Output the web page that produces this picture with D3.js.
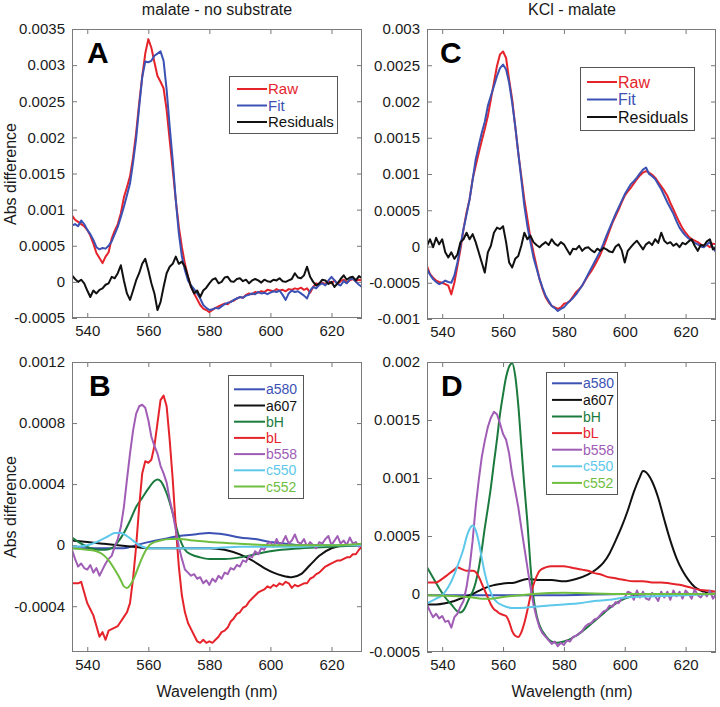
<!DOCTYPE html>
<html><head><meta charset="utf-8">
<script src="https://cdn.jsdelivr.net/npm/d3@7"></script>
<style>body{margin:0;background:#fff}svg{display:block}</style>
</head><body><svg id="c" width="720" height="707"></svg>
<script>
// ---------- DATA ----------
const wl1 = [535,536,537,538,539,540,541,542,543,544,545,546,547,548,549,550,551,552,553,554,555,556,557,558,559,560,561,562,563,564,565,566,567,568,569,570,571,572,573,574,575,576,577,578,579,580,581,582,583,584,585,586,587,588,589,590,591,592,593,594,595,596,597,598,599,600,601,602,603,604,605,606,607,608,609,610,611,612,613,614,615,616,617,618,619,620,621,622,623,624,625,626,627,628,629,630];
const xTicks = [540,560,580,600,620];

// Panel A: malate - no substrate
const rawA = [.00092,.00086,.00083,.00080,.00077,.00072,.00064,.00053,.00040,.00033,
.00026,.00035,.00041,.00060,.00071,.00080,.00095,.00117,.00131,.00146,
.00172,.00206,.00247,.00284,.00316,.00336,.00324,.00304,.00285,.00277,
.00268,.00238,.00196,.00155,.00113,.00076,.00048,.00025,.00007,-.00007,
-.00016,-.00024,-.00032,-.00037,-.00039,-.00042,-.00039,-.00036,-.00034,-.00032,
-.00030,-.00031,-.00027,-.00026,-.00023,-.00021,-.00022,-.00018,-.00016,-.00017,
-.00014,-.00015,-.00013,-.00014,-.00011,-.00012,-.00013,-.00010,-.00012,-.00011,
-.00013,-.00010,-.00011,-.00009,-.00010,-.00008,-.00011,-.00009,-.00015,-.00007,
-.00002,-.00004,-.00001,-.00003,.00001,-.00002,.00002,-.00003,.00001,.00003,
-.00001,.00002,.00004,.00001,.00003,.00002];
const fitA = [.00078,.00080,.00077,.00085,.00080,.00072,.00066,.00058,.00048,.00045,
.00047,.00046,.00050,.00056,.00066,.00076,.00090,.00104,.00120,.00136,
.00165,.00198,.00242,.00283,.00305,.00304,.00306,.00313,.00316,.00319,
.00306,.00266,.00215,.00168,.00113,.00067,.00035,.00016,.00002,-.00005,
-.00010,-.00016,-.00023,-.00032,-.00036,-.00039,-.00038,-.00036,-.00037,-.00034,
-.00031,-.00029,-.00028,-.00025,-.00023,-.00021,-.00022,-.00019,-.00018,-.00016,
-.00017,-.00014,-.00016,-.00015,-.00017,-.00015,-.00013,-.00014,-.00012,-.00018,
-.00025,-.00016,-.00012,-.00014,-.00013,-.00016,-.00019,-.00023,-.00012,-.00007,
-.00009,-.00004,-.00002,-.00005,.00002,.00007,.00002,-.00003,-.00005,.00001,
-.00002,.00003,.00005,.00000,-.00004,-.00007];
const resA = [.00009,.00004,.00000,.00003,-.00002,-.00012,-.00021,-.00012,-.00016,-.00011,
-.00009,-.00004,-.00002,.00007,.00005,.00012,.00023,.00002,-.00016,-.00025,
-.00012,.00002,.00012,.00025,.00032,.00016,-.00002,-.00016,-.00039,-.00028,
-.00007,.00012,.00021,.00025,.00035,.00025,.00028,.00021,.00007,-.00007,
-.00016,-.00012,-.00021,-.00012,-.00008,-.00002,.00003,.00005,-.00002,.00000,
.00006,.00007,.00001,.00000,.00004,.00005,.00001,.00003,-.00002,.00002,
.00004,.00002,-.00001,.00003,.00001,.00000,.00003,.00002,.00005,.00001,
.00000,.00002,.00004,.00012,.00006,.00005,.00009,.00021,.00007,.00000,
-.00005,-.00002,.00003,.00002,-.00003,.00000,-.00007,-.00002,.00004,.00009,
.00003,.00006,.00007,.00002,.00008,.00005];
const yTicksA = [-0.0005,0,0.0005,0.001,0.0015,0.002,0.0025,0.003,0.0035];

// Panel C: KCl - malate
const rawC = [-.00027,-.00038,-.00043,-.00047,-.00049,-.00050,-.00052,-.00054,-.00066,-.00050,
-.00027,-.00004,.00024,.00047,.00065,.00093,.00111,.00129,.00146,.00162,
.00180,.00203,.00226,.00249,.00265,.00269,.00260,.00230,.00203,.00166,
.00129,.00097,.00065,.00038,.00012,-.00008,-.00027,-.00045,-.00059,-.00070,
-.00077,-.00082,-.00084,-.00086,-.00084,-.00079,-.00078,-.00075,-.00069,-.00063,
-.00059,-.00054,-.00047,-.00040,-.00034,-.00027,-.00019,-.00011,-.00001,.00010,
.00022,.00033,.00042,.00051,.00061,.00070,.00076,.00081,.00087,.00093,
.00098,.00102,.00104,.00102,.00099,.00095,.00089,.00083,.00077,.00070,
.00060,.00051,.00042,.00033,.00025,.00019,.00014,.00010,.00008,.00006,
.00003,.00001,.00002,-.00001,.00004,.00003];
const fitC = [-.00031,-.00039,-.00045,-.00049,-.00052,-.00050,-.00047,-.00049,-.00050,-.00040,
-.00022,.00001,.00024,.00044,.00065,.00092,.00120,.00139,.00157,.00172,
.00194,.00208,.00221,.00235,.00246,.00251,.00244,.00226,.00198,.00166,
.00129,.00093,.00056,.00028,.00006,-.00015,-.00030,-.00045,-.00057,-.00068,
-.00075,-.00082,-.00085,-.00089,-.00086,-.00084,-.00079,-.00075,-.00071,-.00066,
-.00060,-.00054,-.00046,-.00038,-.00030,-.00022,-.00014,-.00006,.00004,.00015,
.00025,.00035,.00045,.00054,.00063,.00072,.00079,.00086,.00090,.00095,
.00101,.00106,.00109,.00100,.00097,.00093,.00086,.00079,.00070,.00061,
.00053,.00045,.00035,.00026,.00020,.00015,.00011,.00008,.00005,.00003,
.00000,-.00001,.00003,.00006,-.00002,-.00008];
const resC = [.00001,.00010,-.00001,.00012,.00003,.00010,-.00008,-.00015,-.00008,-.00017,
-.00011,.00006,.00010,.00019,.00010,.00017,.00006,-.00008,-.00022,-.00036,
-.00008,.00001,.00019,.00026,.00024,.00028,.00006,-.00022,-.00029,-.00017,
-.00013,.00001,.00019,.00010,.00015,.00006,.00002,-.00001,.00003,.00006,
.00002,.00010,.00004,.00001,.00006,.00003,-.00004,-.00011,-.00003,-.00004,
.00001,-.00006,-.00002,-.00001,-.00005,-.00008,-.00003,-.00006,-.00002,-.00004,
-.00007,-.00008,.00000,.00003,-.00005,-.00022,-.00006,-.00001,.00004,.00008,
.00002,-.00004,.00003,.00006,.00002,.00010,.00005,.00019,.00008,.00004,
.00006,.00001,.00004,-.00001,.00005,.00003,.00007,.00010,.00001,-.00006,
.00002,.00001,.00007,.00010,-.00004,-.00001];
const yTicksC = [-0.001,-0.0005,0,0.0005,0.001,0.0015,0.002,0.0025,0.003];

// Panel B components
const a580B_x = [535,545,552,556,560,565,570,575,580,585,590,595,600,605,610,620,630];
const a580B = [-.00002,-.00002,-.00002,0,.00002,.00004,.00006,.00007,.00008,.00007,.00005,.00004,.00002,.00001,0,0,0];
const a607B_x = [535,540,545,550,555,560,570,580,585,590,594,598,601,604,607,610,613,616,620,625,630];
const a607B = [.00003,.00002,.00001,0,-.00001,-.00002,-.00002,-.00002,-.00003,-.00006,-.0001,-.00015,-.00018,-.0002,-.00021,-.00019,-.00013,-.00007,-.00002,0,0];
const bHB_x = [535,538,541,544,546,548,550,552,554,556,558,560,562,563,564,566,568,570,572,574,577,580,585,590,595,600,610,620,630];
const bHB = [.00005,.00001,-.00002,-.00003,-.00003,-.00002,.00002,.00008,.00016,.00025,.00031,.00037,.00042,.00043,.00042,.00034,.00021,.00006,-.00003,-.00006,-.00008,-.00009,-.00009,-.00008,-.00006,-.00004,-.00002,-.00001,0];
const bLB = [-.00025,-.00025,-.00025,-.00024,-.00031,-.00038,-.00042,-.00046,-.00053,-.00060,
-.00057,-.00062,-.00056,-.00055,-.00054,-.00053,-.00050,-.00047,-.00044,-.00038,
-.00022,-.00001,.00025,.00047,.00055,.00054,.00056,.00065,.00080,.00095,
.00098,.00091,.00069,.00043,.00012,-.00014,-.00033,-.00044,-.00051,-.00055,
-.00059,-.00063,-.00064,-.00062,-.00064,-.00063,-.00064,-.00062,-.00060,-.00057,
-.00056,-.00054,-.00050,-.00048,-.00045,-.00044,-.00041,-.00040,-.00037,-.00035,
-.00033,-.00031,-.00030,-.00029,-.00027,-.00028,-.00026,-.00027,-.00025,-.00026,
-.00024,-.00025,-.00028,-.00026,-.00027,-.00026,-.00025,-.00025,-.00022,-.00021,
-.00019,-.00018,-.00016,-.00014,-.00013,-.00012,-.00011,-.00010,-.00010,-.00009,
-.00008,-.00008,-.00006,-.00006,-.00003,-.00001];
const b558B = [-.00003,-.00009,-.00014,-.00012,-.00015,-.00016,-.00013,-.00018,-.00015,-.00020,
-.00016,-.00012,-.00009,-.00007,-.00001,.00004,.00012,.00025,.00043,.00060,
.00075,.00086,.00091,.00092,.00090,.00082,.00071,.00065,.00060,.00052,
.00047,.00041,.00030,.00021,.00010,-.00001,-.00009,-.00016,-.00018,-.00020,
-.00019,-.00022,-.00021,-.00025,-.00023,-.00026,-.00022,-.00024,-.00020,-.00022,
-.00018,-.00019,-.00015,-.00016,-.00013,-.00014,-.00010,-.00011,-.00007,-.00008,
-.00004,-.00006,-.00002,-.00003,.00001,.00002,-.00001,.00004,.00000,.00002,
.00006,.00001,.00003,.00007,.00002,.00001,.00004,-.00001,.00002,.00000,
-.00002,.00002,.00001,.00004,.00006,.00000,.00003,.00006,.00001,.00003,
.00000,.00005,.00001,.00002,-.00001,.00001];
const c550B_x = [535,540,543,545,547,549,550,551,553,555,557,560,565,570,580,590,600,610,620,630];
const c550B = [-.00001,0,.00002,.00004,.00006,.00008,.00008,.00008,.00006,.00003,0,-.00002,-.00002,-.00002,-.00002,-.00001,-.00001,-.00001,0,0];
const c552B_x = [535,540,543,545,547,549,551,552,553,555,557,559,561,564,567,570,575,580,590,600,610,620,630];
const c552B = [-.00002,-.00003,-.00004,-.00006,-.0001,-.00016,-.00023,-.00027,-.00028,-.00023,-.00013,-.00004,.00001,.00003,.00004,.00004,.00003,.00002,.00001,0,0,0,.00001];
const yTicksB = [-0.0004,0,0.0004,0.0008,0.0012];

// Panel D components
const a580D_x = [535,560,580,600,630];
const a580D = [-.00001,-.00001,-.00001,0,0];
const a607D_x = [535,538,541,544,547,550,553,556,560,564,568,572,576,580,584,588,591,593,595,597,599,601,603,605,606,607,609,611,613,615,617,619,621,623,626,630];
const a607D = [-.00009,-.00009,-.00008,-.00006,-.00003,0,.00004,.00007,.00009,.0001,.00013,.00012,.00012,.00011,.00013,.00017,.00022,.00027,.00035,.00046,.00058,.00072,.00088,.00101,.00106,.00105,.00097,.00083,.00064,.00046,.00031,.0002,.00012,.00006,.00002,0];
const bHD_x = [535,537,539,541,543,545,546,547,549,550,551,552,553,554,555,556,557,558,559,560,561,562,563,564,565,566,567,568,569,570,571,572,574,576,578,580,584,588,592,596,600,604,610,620,630];
const bHD = [.00023,.00014,.00005,-.00003,-.00009,-.00015,-.00016,-.00014,-.00003,.00002,.0001,.00022,.00038,.00057,.00074,.00092,.00113,.00133,.00155,.00172,.00187,.00196,.00199,.00188,.00163,.00128,.00093,.00062,.00025,-.00003,-.00018,-.00027,-.00036,-.00041,-.00042,-.00041,-.00036,-.00028,-.00019,-.0001,-.00004,-.00001,0,0,0];
const bLD_x = [535,538,540,542,544,545,546,548,550,551,552,553,554,555,556,557,558,559,560,561,562,563,564,565,566,567,568,569,570,571,572,574,576,578,580,582,584,586,588,590,592,594,596,598,600,603,606,609,612,615,618,621,624,627,630];
const bLD = [.0001,.0001,.00013,.00017,.00021,.00023,.00022,.0002,.0002,.00019,.00015,.00009,.00003,-.00003,-.00009,-.00013,-.00015,-.00017,-.00018,-.00019,-.00024,-.00032,-.00036,-.00037,-.00033,-.00025,-.00014,-.00002,.00008,.00015,.0002,.00023,.00024,.00024,.00024,.00023,.00022,.00021,.0002,.00018,.00017,.00015,.00014,.00013,.00012,.00011,.00011,.0001,.0001,.00009,.00008,.00006,.00004,.00003,.00002];
const b558D = [-.00009,-.00015,-.00020,-.00017,-.00021,-.00019,-.00024,-.00023,-.00029,-.00020,
-.00017,-.00011,-.00006,.00006,.00023,.00046,.00075,.00098,.00118,.00132,
.00144,.00152,.00157,.00155,.00147,.00138,.00133,.00121,.00103,.00089,
.00075,.00057,.00040,.00023,.00006,-.00009,-.00020,-.00029,-.00034,-.00037,
-.00040,-.00043,-.00041,-.00045,-.00042,-.00044,-.00040,-.00041,-.00037,-.00036,
-.00034,-.00032,-.00028,-.00026,-.00025,-.00022,-.00021,-.00018,-.00015,-.00014,
-.00010,-.00011,-.00007,-.00008,-.00004,-.00003,.00002,.00001,-.00005,.00003,
-.00003,.00002,-.00004,-.00005,.00001,-.00002,-.00006,.00002,-.00003,.00002,
-.00005,.00003,-.00002,.00002,-.00004,.00003,.00000,-.00004,.00004,-.00001,
-.00003,.00001,-.00002,.00003,-.00004,.00000];
const c550D_x = [535,538,540,542,544,545,546,547,548,549,550,551,552,553,554,555,556,557,558,560,563,566,570,575,580,585,590,595,600,610,620,630];
const c550D = [-.00008,-.00004,-.00001,.00006,.00017,.00024,.00031,.00039,.00049,.00056,.00059,.00055,.00045,.00031,.00018,.00008,.00001,-.00004,-.00007,-.0001,-.00012,-.00012,-.00011,-.0001,-.00009,-.00008,-.00006,-.00005,-.00003,-.00002,-.00001,0];
const c552D_x = [535,545,550,553,556,559,562,566,570,580,600,630];
const c552D = [-.00001,-.00002,-.00003,-.00004,-.00004,-.00003,-.00002,-.00001,0,.00001,0,0];
const yTicksD = [-0.0005,0,0.0005,0.001,0.0015,0.002];

const compNames = ["a580","a607","bH","bL","b558","c550","c552"];
const fitNames = ["Raw","Fit","Residuals"];

// ---------- STYLE ----------
const FONT = "'Liberation Sans', Arial, Helvetica, sans-serif";
const COL = {red:"#e5232b", blue:"#3b52b4", black:"#111111", dgreen:"#1b7a3d", purple:"#a05db6", cyan:"#5ec8ea", lgreen:"#6fbe40"};
const compColors = [COL.blue, COL.black, COL.dgreen, COL.red, COL.purple, COL.cyan, COL.lgreen];
const fitColors = [COL.red, COL.blue, COL.black];

const svg = d3.select("#c");
const fmt = v => String(+v.toFixed(6));

function panel(cfg){
  const x = d3.scaleLinear().domain([535,630]).range([cfg.x0,cfg.x1]);
  const y = d3.scaleLinear().domain(cfg.yDomain).range([cfg.y1,cfg.y0]);
  const g = svg.append("g");
  const id = "clip"+cfg.letter;
  svg.append("defs").append("clipPath").attr("id",id).append("rect")
    .attr("x",cfg.x0).attr("y",cfg.y0).attr("width",cfg.x1-cfg.x0).attr("height",cfg.y1-cfg.y0);

  const style = sel => { sel.select(".domain").remove();
    sel.selectAll("line").attr("stroke","#777");
    sel.attr("font-family",FONT).attr("font-size",15);
    sel.selectAll("text").attr("fill","#1a1a1a"); };
  g.append("g").attr("transform",`translate(${cfg.x0},0)`)
    .call(d3.axisLeft(y).tickValues(cfg.yTicks).tickSize(-5).tickPadding(7).tickFormat(fmt)).call(style);
  g.append("g").attr("transform",`translate(${cfg.x1},0)`)
    .call(d3.axisRight(y).tickValues(cfg.yTicks).tickSize(-5).tickFormat("")).call(style);
  g.append("g").attr("transform",`translate(0,${cfg.y1})`)
    .call(d3.axisBottom(x).tickValues(xTicks).tickSize(-5).tickPadding(7).tickFormat(d3.format("d"))).call(style);
  g.append("g").attr("transform",`translate(0,${cfg.y0})`)
    .call(d3.axisTop(x).tickValues(xTicks).tickSize(-5).tickFormat("")).call(style);

  const lines = g.append("g").attr("clip-path",`url(#${id})`);
  cfg.series.forEach(s => {
    const line = d3.line().x((d,i)=>x(s.xs[i])).y(d=>y(d)).curve(s.smooth ? d3.curveMonotoneX : d3.curveLinear);
    lines.append("path").attr("d", line(s.ys)).attr("fill","none")
      .attr("stroke", s.color).attr("stroke-width", 2).attr("stroke-linejoin","round");
  });

  g.append("rect").attr("x",cfg.x0+0.5).attr("y",cfg.y0+0.5).attr("width",cfg.x1-cfg.x0-1).attr("height",cfg.y1-cfg.y0-1)
    .attr("fill","none").attr("stroke","#7a7a7a").attr("stroke-width",1);

  g.append("text").attr("x",cfg.lx).attr("y",cfg.ly).text(cfg.letter)
    .attr("font-family",FONT).attr("font-weight","bold").attr("font-size",30).attr("fill","#000");

  const L = cfg.legend;
  const lg = g.append("g");
  lg.append("rect").attr("x",L.x+0.5).attr("y",L.y+0.5).attr("width",L.w).attr("height",L.h)
    .attr("fill","#fff").attr("stroke","#555").attr("stroke-width",1);
  L.names.forEach((n,i)=>{
    const yy = L.first + i*L.step;
    lg.append("line").attr("x1",L.l1).attr("x2",L.l2).attr("y1",yy).attr("y2",yy)
      .attr("stroke",L.colors[i]).attr("stroke-width",2);
    lg.append("text").attr("x",L.l2+1).attr("y",yy+L.fs*0.36).text(n)
      .attr("font-family",FONT).attr("font-size",L.fs).attr("fill",L.colors[i]);
  });
}

const S = (xs,ys,color,smooth)=>({xs,ys,color,smooth});

panel({letter:"A", x0:72, x1:362, y0:29, y1:318, yDomain:[-0.0005,0.0035], yTicks:yTicksA, lx:87, ly:63,
  series:[S(wl1,rawA,COL.red), S(wl1,fitA,COL.blue), S(wl1,resA,COL.black)],
  legend:{x:229,y:76,w:108,h:57,l1:237,l2:267,first:89,step:16.5,fs:15,names:fitNames,colors:fitColors}});
panel({letter:"C", x0:427, x1:716, y0:29, y1:319, yDomain:[-0.001,0.003], yTicks:yTicksC, lx:440, ly:63,
  series:[S(wl1,rawC,COL.red), S(wl1,fitC,COL.blue), S(wl1,resC,COL.black)],
  legend:{x:580,y:67,w:114,h:63,l1:587,l2:617,first:82,step:17.5,fs:16,names:fitNames,colors:fitColors}});
panel({letter:"B", x0:72, x1:362, y0:362, y1:652, yDomain:[-0.0007,0.0012], yTicks:yTicksB, lx:89, ly:396,
  series:[S(a580B_x,a580B,COL.blue,true), S(a607B_x,a607B,COL.black,true), S(bHB_x,bHB,COL.dgreen,true),
          S(wl1,bLB,COL.red), S(wl1,b558B,COL.purple), S(c550B_x,c550B,COL.cyan,true), S(c552B_x,c552B,COL.lgreen,true)],
  legend:{x:228,y:375,w:75,h:123,l1:234,l2:265,first:389.3,step:16.2,fs:14,names:compNames,colors:compColors}});
panel({letter:"D", x0:427, x1:716, y0:362, y1:652, yDomain:[-0.0005,0.002], yTicks:yTicksD, lx:441, ly:396,
  series:[S(a580D_x,a580D,COL.blue,true), S(a607D_x,a607D,COL.black,true), S(bHD_x,bHD,COL.dgreen,true),
          S(bLD_x,bLD,COL.red,true), S(wl1,b558D,COL.purple), S(c550D_x,c550D,COL.cyan,true), S(c552D_x,c552D,COL.lgreen,true)],
  legend:{x:546,y:372,w:71,h:122,l1:552,l2:582,first:383.3,step:16.6,fs:14,names:compNames,colors:compColors}});

// titles and axis labels
const T = (x,y,t)=> svg.append("text").attr("x",x).attr("y",y).text(t)
  .attr("font-family",FONT).attr("font-size",16).attr("fill","#1a1a1a").attr("text-anchor","middle");
T(217,15,"malate - no substrate");
T(572,15,"KCl - malate");
T(217,697,"Wavelength (nm)");
T(572,697,"Wavelength (nm)");
svg.append("text").attr("transform","translate(16,174) rotate(-90)").attr("text-anchor","middle")
  .attr("font-family",FONT).attr("font-size",16).attr("fill","#1a1a1a").text("Abs difference");
svg.append("text").attr("transform","translate(16,507) rotate(-90)").attr("text-anchor","middle")
  .attr("font-family",FONT).attr("font-size",16).attr("fill","#1a1a1a").text("Abs difference");
</script></body></html>
